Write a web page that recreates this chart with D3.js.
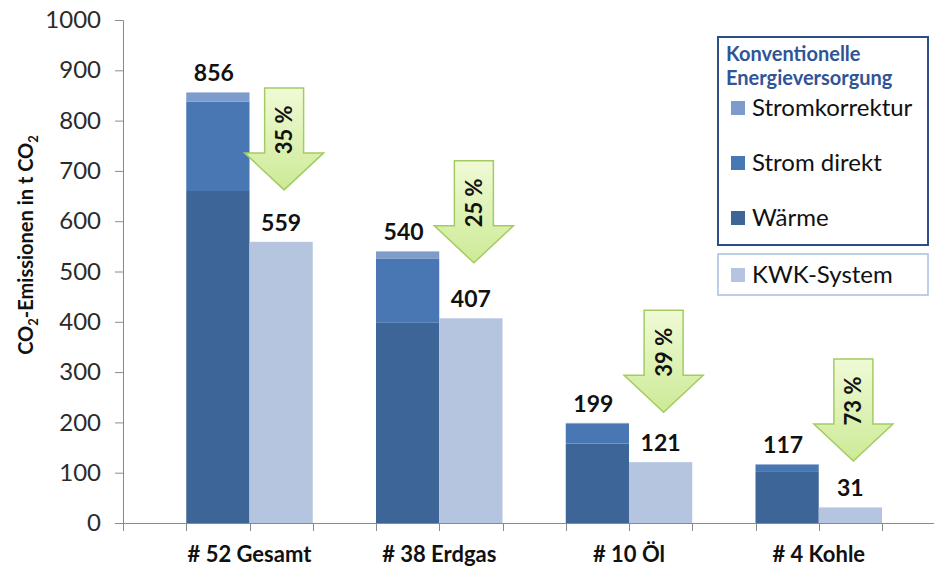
<!DOCTYPE html>
<html>
<head>
<meta charset="utf-8">
<script src="https://cdn.jsdelivr.net/npm/d3@7"></script>
<style>
  html, body { margin: 0; padding: 0; background: #fff; }
  svg { display: block; font-family: Lato, "Open Sans", sans-serif; }
</style>
</head>
<body>
<svg id="chart" width="934" height="569"></svg>
<script>
// ---- data ----
const categories = ["# 52 Gesamt", "# 38 Erdgas", "# 10 Öl", "# 4 Kohle"];
const waerme = [660, 398, 158, 103];
const stromDirekt = [178, 128, 40, 13];
const stromKorrektur = [18, 14, 1, 1];
const totalLabels = [856, 540, 199, 117];
const kwk = [559, 407, 121, 31];
const reductionLabels = ["35 %", "25 %", "39 %", "73 %"];
const arrowTops = [865, 720, 423, 326];
const yTicks = [0, 100, 200, 300, 400, 500, 600, 700, 800, 900, 1000];
const legendConv = ["Stromkorrektur", "Strom direkt", "Wärme"];
const legendKwk = "KWK-System";

// ---- styles ----
const colors = {
  waerme: "#3d6597",
  strom: "#4877b4",
  korr: "#7e9ccb",
  kwk: "#b5c5e0",
  axis: "#8a8a8a"
};

const svg = d3.select("#chart");
const mLeft = 123, mBottom = 523, mTop = 20;
const slot = 63.25;

const y = d3.scaleLinear().domain([0, 1000]).range([mBottom, mTop]);
const xCat = d3.scaleBand().domain(categories).range([mLeft, mLeft + 12 * slot]).paddingInner(0).paddingOuter(0);
const xSub = d3.scaleBand().domain(["gap", "conv", "kwk"]).range([0, xCat.bandwidth()]);

// defs: gradient for arrows
const defs = svg.append("defs");
const grad = defs.append("linearGradient").attr("id", "arrowGrad").attr("x1", 0).attr("y1", 0).attr("x2", 0).attr("y2", 1);
grad.append("stop").attr("offset", "0%").attr("stop-color", "#f0fad6");
grad.append("stop").attr("offset", "100%").attr("stop-color", "#cdea96");

// ---- stacked data ----
const stackData = categories.map((c, i) => ({ cat: c, waerme: waerme[i], strom: stromDirekt[i], korr: stromKorrektur[i] }));
const stack = d3.stack().keys(["waerme", "strom", "korr"]);
const series = stack(stackData);

// ---- bars ----
const gBars = svg.append("g");
series.forEach(s => {
  gBars.selectAll(null).data(s).enter().append("rect")
    .attr("x", d => xCat(d.data.cat) + xSub("conv"))
    .attr("width", xSub.bandwidth())
    .attr("y", d => y(d[1]))
    .attr("height", d => y(d[0]) - y(d[1]))
    .attr("fill", colors[s.key]);
});
gBars.selectAll(null).data(categories).enter().append("rect")
  .attr("x", c => xCat(c) + xSub("kwk"))
  .attr("width", xSub.bandwidth())
  .attr("y", (c, i) => y(kwk[i]))
  .attr("height", (c, i) => y(0) - y(kwk[i]))
  .attr("fill", colors.kwk);

// ---- y axis ----
const yAxis = d3.axisLeft(y).tickValues(yTicks).tickSize(8).tickPadding(14).tickFormat(d3.format("d"));
const gy = svg.append("g").attr("transform", `translate(${mLeft},0)`).call(yAxis);
gy.select(".domain").attr("stroke", colors.axis).attr("stroke-width", 1);
gy.selectAll(".tick line").attr("stroke", colors.axis);
gy.selectAll(".tick text").attr("font-family", "Lato, sans-serif").attr("font-size", 24).attr("fill", "#2b2b2b");

// ---- x axis ----
const slotTicks = [];
categories.forEach(c => { ["gap", "conv", "kwk"].forEach(k => slotTicks.push(xCat(c) + xSub(k))); });
slotTicks.push(xCat.range()[1]);
svg.append("line").attr("x1", mLeft).attr("x2", 934).attr("y1", mBottom + 0.5).attr("y2", mBottom + 0.5)
  .attr("stroke", colors.axis);
svg.append("g").selectAll("line").data(slotTicks).enter().append("line")
  .attr("x1", d => Math.round(d) + 0.5).attr("x2", d => Math.round(d) + 0.5)
  .attr("y1", mBottom).attr("y2", mBottom + 8).attr("stroke", colors.axis);

svg.append("g").selectAll("text").data(categories).enter().append("text")
  .attr("x", c => xCat(c) + xSub("kwk"))
  .attr("y", 562)
  .attr("text-anchor", "middle")
  .attr("font-weight", "bold").attr("font-size", 22).attr("fill", "#111")
  .text(c => c);

// ---- y title ----
const yt = svg.append("text")
  .attr("transform", `translate(33,245) rotate(-90)`)
  .attr("text-anchor", "middle")
  .attr("font-weight", "bold").attr("font-size", 20).attr("fill", "#111");
yt.append("tspan").text("CO");
yt.append("tspan").attr("font-size", 13).attr("dy", 5).text("2");
yt.append("tspan").attr("dy", -5).text("-Emissionen in t CO");
yt.append("tspan").attr("font-size", 13).attr("dy", 5).text("2");

// ---- value labels ----
const gLab = svg.append("g").attr("font-weight", "bold").attr("font-size", 23).attr("fill", "#111").attr("text-anchor", "middle");
categories.forEach((c, i) => {
  gLab.append("text").attr("x", xCat(c) + xSub("conv") + xSub.bandwidth() / 2 - 4)
    .attr("y", y(totalLabels[i]) - 11).text(totalLabels[i]);
  gLab.append("text").attr("x", xCat(c) + xSub("kwk") + xSub.bandwidth() / 2)
    .attr("y", y(kwk[i]) - 11).text(kwk[i]);
});

// ---- arrows ----
const shaftHalf = 19.5, headHalf = 39.5, shaftLen = 65, headLen = 37;
const gArr = svg.append("g");
categories.forEach((c, i) => {
  const cx = xCat(c) + xSub("kwk") + xSub.bandwidth() / 2 + 3;
  const ty = y(arrowTops[i]);
  const p = d3.path();
  p.moveTo(cx - shaftHalf, ty);
  p.lineTo(cx + shaftHalf, ty);
  p.lineTo(cx + shaftHalf, ty + shaftLen);
  p.lineTo(cx + headHalf, ty + shaftLen);
  p.lineTo(cx, ty + shaftLen + headLen);
  p.lineTo(cx - headHalf, ty + shaftLen);
  p.lineTo(cx - shaftHalf, ty + shaftLen);
  p.closePath();
  gArr.append("path").attr("d", p.toString())
    .attr("fill", "url(#arrowGrad)").attr("stroke", "#a2cc62").attr("stroke-width", 1.5)
    .attr("stroke-linejoin", "miter");
  gArr.append("text")
    .attr("transform", `translate(${cx + 8},${ty + 42}) rotate(-90)`)
    .attr("text-anchor", "middle")
    .attr("font-weight", "bold").attr("font-size", 22).attr("fill", "#111")
    .text(reductionLabels[i]);
});

// ---- legend ----
const lg = svg.append("g");
lg.append("rect").attr("x", 718).attr("y", 37).attr("width", 210).attr("height", 208)
  .attr("fill", "#fff").attr("stroke", "#2c4f86").attr("stroke-width", 2);
lg.append("text").attr("x", 726).attr("y", 61).attr("font-weight", "bold").attr("font-size", 20)
  .attr("fill", "#2f5597").text("Konventionelle");
lg.append("text").attr("x", 726).attr("y", 85).attr("font-weight", "bold").attr("font-size", 20)
  .attr("fill", "#2f5597").text("Energieversorgung");
const legColors = [colors.korr, colors.strom, colors.waerme];
const legY = [108, 163, 218];
legendConv.forEach((t, i) => {
  lg.append("rect").attr("x", 731).attr("y", legY[i] - 7).attr("width", 14).attr("height", 14).attr("fill", legColors[i]);
  lg.append("text").attr("x", 752).attr("y", legY[i]).attr("dy", "0.35em").attr("font-size", 24).attr("fill", "#111").text(t);
});
lg.append("rect").attr("x", 718).attr("y", 254).attr("width", 210).attr("height", 41)
  .attr("fill", "#fff").attr("stroke", "#a9bfe0").attr("stroke-width", 1.5);
lg.append("rect").attr("x", 731).attr("y", 268).attr("width", 14).attr("height", 14).attr("fill", colors.kwk);
lg.append("text").attr("x", 752).attr("y", 275).attr("dy", "0.35em").attr("font-size", 24).attr("fill", "#111").text(legendKwk);
</script>
</body>
</html>
